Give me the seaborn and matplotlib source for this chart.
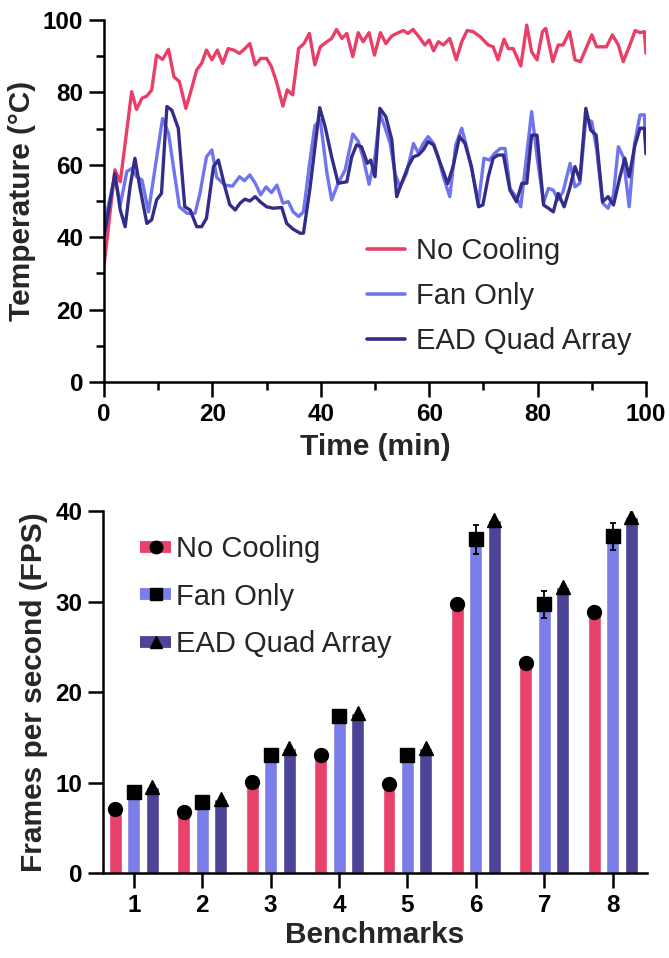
import numpy as np
import pandas as pd
import matplotlib
matplotlib.use("Agg")
import matplotlib.pyplot as plt
from matplotlib.lines import Line2D
from matplotlib.ticker import MultipleLocator
import seaborn as sns

# ---------------- temperature traces ----------------
t_none = [0, 2.0, 3.0, 5.1, 6.0, 7.0, 7.9, 8.8, 9.7, 10.8,
          11.9, 12.9, 13.9, 15.1, 16.0, 17.1, 18.0, 18.9, 19.9, 20.9,
          21.9, 22.9, 23.9, 25.0, 26.0, 26.9, 27.9, 28.9, 30.0, 30.9,
          31.9, 33.0, 33.8, 34.8, 35.9, 36.9, 37.9, 38.9, 39.9, 41.1,
          42.0, 42.9, 43.9, 44.8, 45.9, 46.9, 47.8, 48.9, 49.9, 51.0,
          52.0, 53.1, 54.3, 55.2, 56.1, 57.0, 58.2, 59.2, 60.0, 60.8,
          61.7, 62.6, 63.8, 65.0, 66.0, 67.0, 68.1, 69.4, 70.9, 71.8,
          72.7, 73.8, 74.6, 75.5, 76.9, 78.0, 78.9, 79.9, 80.9, 81.5,
          82.8, 83.8, 84.7, 85.9, 86.9, 87.9, 90.0, 90.9, 92.7, 93.8,
          94.9, 95.8, 96.9, 98.0, 98.9, 99.7, 100]
temp_none = [32, 58.6, 55.3, 80.2, 75.3, 78.4, 79.0, 80.7, 90.3, 89.1,
             91.9, 84.3, 83.0, 75.6, 80.2, 86.2, 88.0, 91.7, 89.0, 91.7,
             88.0, 92.1, 91.7, 90.8, 92.1, 93.5, 87.6, 89.4, 89.4, 87.1,
             82.5, 76.2, 80.7, 79.3, 92.1, 93.5, 96.3, 87.6, 92.6, 94.0,
             94.9, 97.4, 94.9, 96.3, 89.9, 96.5, 94.0, 96.5, 90.3, 96.5,
             93.5, 95.6, 96.5, 97.1, 96.3, 97.4, 95.2, 93.1, 94.5, 91.5,
             94.0, 93.1, 94.9, 89.0, 94.0, 97.1, 96.8, 95.4, 93.1, 92.6,
             89.0, 94.7, 92.1, 92.1, 87.3, 98.6, 91.2, 89.0, 96.8, 97.7,
             88.5, 93.1, 93.1, 96.8, 89.0, 88.5, 95.9, 92.6, 92.6, 95.9,
             93.1, 88.5, 92.6, 97.1, 96.5, 96.8, 90.8]

t_fan = [0, 2.0, 3.0, 4.2, 5.1, 6.0, 7.0, 8.2, 10.8, 11.9,
         12.8, 13.9, 15.3, 16.8, 17.7, 18.9, 19.9, 20.8, 22.3, 23.7,
         25.0, 25.9, 26.9, 27.9, 28.9, 29.9, 30.9, 31.9, 33.0, 34.0,
         34.9, 35.9, 36.8, 37.9, 38.9, 39.9, 41.1, 42.0, 43.2, 44.5,
         45.9, 46.9, 47.8, 48.9, 50.0, 50.9, 51.8, 52.8, 53.7, 54.6,
         55.8, 57.1, 58.0, 58.9, 59.8, 60.8, 61.5, 62.6, 63.8, 64.9,
         66.0, 66.9, 67.8, 69.1, 70.1, 71.1, 72.1, 73.1, 74.0, 74.9,
         76.0, 76.9, 78.9, 79.9, 81.1, 82.0, 82.9, 83.8, 84.7, 86.0,
         86.9, 87.8, 88.9, 90.0, 90.9, 92.0, 93.0, 94.0, 94.9, 95.8,
         96.9, 97.9, 98.9, 99.7, 100]
temp_fan = [43.5, 56.7, 48.9, 58.1, 59.0, 56.7, 55.8, 47.0, 72.8, 68.7,
            59.5, 48.4, 46.6, 46.6, 52.1, 62.2, 64.1, 56.5, 54.4, 54.1,
            56.7, 55.6, 57.2, 54.9, 51.7, 53.9, 52.3, 54.4, 49.4, 49.8,
            47.0, 45.7, 47.0, 60.0, 70.8, 72.4, 58.0, 50.3, 54.9, 58.6,
            68.5, 66.5, 62.0, 54.6, 62.2, 74.2, 70.5, 65.9, 57.6, 53.9,
            57.6, 65.9, 63.2, 65.9, 67.8, 65.9, 63.0, 56.7, 51.2, 65.5,
            70.1, 65.0, 59.0, 49.4, 61.8, 61.3, 63.2, 64.5, 64.5, 53.5,
            51.2, 48.4, 74.7, 62.2, 49.6, 53.5, 53.0, 50.3, 52.6, 60.4,
            53.9, 54.9, 72.8, 71.9, 64.1, 49.4, 48.0, 51.7, 65.0, 62.2,
            48.4, 65.9, 73.8, 73.8, 64.0]

t_ead = [0, 2.0, 3.0, 3.9, 4.8, 5.7, 6.6, 7.9, 8.8, 9.7,
         10.6, 11.6, 12.5, 13.7, 14.9, 15.9, 17.1, 18.0, 18.9, 20.2,
         21.1, 22.3, 23.2, 24.2, 25.1, 26.0, 26.9, 27.9, 28.8, 30.0,
         31.2, 32.8, 33.7, 34.9, 36.2, 36.8, 38.0, 39.8, 40.8, 42.0,
         43.2, 44.8, 45.7, 46.6, 47.5, 48.6, 49.2, 50.0, 50.9, 52.0,
         53.1, 54.0, 54.9, 56.1, 57.1, 58.0, 58.9, 59.8, 60.8, 62.2,
         63.4, 64.4, 65.6, 66.6, 67.8, 69.1, 69.9, 70.9, 71.8, 72.7,
         73.7, 74.9, 76.1, 77.1, 78.0, 78.9, 79.9, 81.1, 82.0, 82.9,
         83.8, 84.9, 86.0, 86.9, 87.8, 88.9, 89.8, 90.8, 92.0, 93.0,
         94.0, 95.2, 96.1, 96.9, 97.9, 98.9, 99.7, 100]
temp_ead = [40.0, 57.6, 47.5, 42.9, 53.9, 61.8, 53.9, 43.8, 44.8, 50.3,
            52.1, 76.1, 75.1, 70.1, 48.4, 47.5, 42.9, 42.9, 45.2, 59.5,
            61.3, 53.9, 49.0, 47.5, 49.4, 50.5, 50.0, 51.2, 49.8, 48.4,
            48.0, 48.2, 43.8, 42.2, 41.1, 41.1, 53.5, 75.8, 70.5, 62.2,
            54.9, 55.3, 62.2, 65.5, 65.0, 60.4, 61.3, 56.7, 75.6, 73.3,
            66.9, 51.2, 54.9, 59.5, 62.2, 62.7, 64.1, 66.4, 65.5, 59.8,
            54.8, 59.5, 67.8, 65.9, 59.5, 48.4, 48.9, 56.7, 61.8, 62.7,
            62.7, 53.0, 49.8, 54.9, 54.9, 68.2, 68.2, 48.9, 48.0, 47.0,
            52.1, 48.4, 53.9, 59.5, 55.8, 75.6, 69.6, 68.2, 49.8, 51.2,
            48.9, 56.7, 61.8, 56.7, 65.0, 70.1, 70.1, 63.0]

# ---------------- benchmark frame rates ----------------
benchmarks = ["1", "2", "3", "4", "5", "6", "7", "8"]
fps_none = [7.1, 6.7, 10.1, 13.0, 9.8, 29.7, 23.2, 28.8]
fps_fan = [8.9, 7.8, 13.0, 17.4, 13.0, 36.9, 29.7, 37.2]
fps_ead = [9.5, 8.2, 13.8, 17.7, 13.8, 39.0, 31.6, 39.3]
fps_fan_err = [0, 0, 0, 0, 0, 1.6, 1.5, 1.5]

conditions = ["No Cooling", "Fan Only", "EAD Quad Array"]
line_colors = ["#E93F67", "#6F75EE", "#342D88"]
bar_colors = ["#E8416B", "#7B7EE9", "#4B4497"]
markers = ["o", "s", "^"]

sns.set_theme(style="ticks")
plt.rcParams["font.family"] = ["Liberation Sans", "DejaVu Sans"]
plt.rcParams.update({
    "axes.linewidth": 1.8,
    "xtick.major.size": 11, "ytick.major.size": 11,
    "xtick.minor.size": 6, "ytick.minor.size": 6,
    "xtick.major.width": 1.8, "ytick.major.width": 1.8,
    "xtick.minor.width": 1.8, "ytick.minor.width": 1.8,
    "xtick.color": "black", "ytick.color": "black",
    "axes.edgecolor": "black",
})

fig = plt.figure(figsize=(6.69, 9.58), dpi=100)
ax1 = fig.add_axes([0.1555, 0.6013, 0.8101, 0.3778])
ax2 = fig.add_axes([0.154, 0.0887, 0.813, 0.3779])

tick_font = dict(fontsize=17.5, fontweight="bold")
label_font = dict(fontsize=21.5, fontweight="bold")

# ---- top: temperature over time ----
traces = pd.concat([
    pd.DataFrame({"time": t_none, "temp": temp_none, "cond": conditions[0]}),
    pd.DataFrame({"time": t_fan, "temp": temp_fan, "cond": conditions[1]}),
    pd.DataFrame({"time": t_ead, "temp": temp_ead, "cond": conditions[2]}),
])
sns.lineplot(data=traces, x="time", y="temp", hue="cond",
             hue_order=conditions, palette=line_colors, estimator=None,
             sort=False, lw=2.4, legend=False, ax=ax1)
ax1.set_xlim(0, 100)
ax1.set_ylim(0, 100)
ax1.xaxis.set_major_locator(MultipleLocator(20))
ax1.xaxis.set_minor_locator(MultipleLocator(10))
ax1.yaxis.set_major_locator(MultipleLocator(20))
ax1.yaxis.set_minor_locator(MultipleLocator(10))
ax1.set_xlabel("Time (min)", labelpad=5, **label_font)
ax1.set_ylabel("Temperature (°C)", labelpad=5, **label_font)
sns.despine(ax=ax1)

line_handles = [Line2D([], [], color=c, lw=2.6) for c in line_colors]
ax1.legend(line_handles, conditions, loc="upper left",
           bbox_to_anchor=(367 / 669, 1 - 237 / 958),
           bbox_transform=fig.transFigure, frameon=False, fontsize=21,
           handlelength=1.3, handletextpad=0.38, labelspacing=0.58,
           borderpad=0, borderaxespad=0)

# ---- bottom: frame rates per benchmark ----
fps = pd.DataFrame({
    "bench": benchmarks * 3,
    "fps": fps_none + fps_fan + fps_ead,
    "cond": np.repeat(conditions, len(benchmarks)),
})
sns.barplot(data=fps, x="bench", y="fps", hue="cond", hue_order=conditions,
            palette=bar_colors, saturation=1, width=0.81, gap=0.3,
            errorbar=None, legend=False, ax=ax2, zorder=1)

offsets = [-0.27, 0.0, 0.27]
pos = np.arange(len(benchmarks))
err = np.array(fps_fan_err)
has_err = err > 0
ax2.errorbar(pos[has_err] + offsets[1], np.array(fps_fan)[has_err],
             yerr=err[has_err], fmt="none", ecolor="black", elinewidth=1.3,
             capsize=2.5, capthick=1.3, zorder=2)
for vals, off, mk in zip([fps_none, fps_fan, fps_ead], offsets, markers):
    ax2.plot(pos + off, vals, linestyle="none", marker=mk, markersize=10,
             color="black", zorder=3)

ax2.set_xlim(-0.45, 7.5)
ax2.set_ylim(0, 40)
ax2.yaxis.set_major_locator(MultipleLocator(10))
ax2.set_xlabel("Benchmarks", labelpad=3, **label_font)
ax2.set_ylabel("Frames per second (FPS)", labelpad=5, **label_font)
sns.despine(ax=ax2)

bar_handles = [Line2D([], [], color=c, lw=8.5, solid_capstyle="butt",
                      marker=mk, markersize=9, markerfacecolor="black",
                      markeredgecolor="black")
               for c, mk in zip(bar_colors, markers)]
ax2.legend(bar_handles, conditions, loc="upper left",
           bbox_to_anchor=(140 / 669, 1 - 535 / 958),
           bbox_transform=fig.transFigure, frameon=False, fontsize=21,
           handlelength=1.07, handletextpad=0.17, labelspacing=0.67,
           borderpad=0, borderaxespad=0, numpoints=1)

for ax in (ax1, ax2):
    for lab in ax.get_xticklabels() + ax.get_yticklabels():
        lab.set_fontsize(tick_font["fontsize"])
        lab.set_fontweight("bold")
    ax.tick_params(axis="both", which="major", pad=4)

fig.savefig("out.png", dpi=100)
